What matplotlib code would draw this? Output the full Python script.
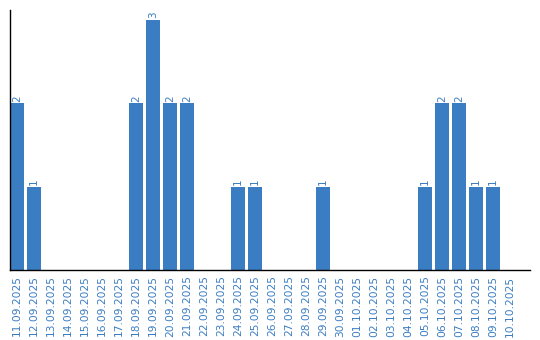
import matplotlib
matplotlib.use("Agg")
from matplotlib import pyplot as plt

# daily counts, 11.09.2025 .. 10.10.2025
dates = ["11.09.2025", "12.09.2025", "13.09.2025", "14.09.2025", "15.09.2025",
         "16.09.2025", "17.09.2025", "18.09.2025", "19.09.2025", "20.09.2025",
         "21.09.2025", "22.09.2025", "23.09.2025", "24.09.2025", "25.09.2025",
         "26.09.2025", "27.09.2025", "28.09.2025", "29.09.2025", "30.09.2025",
         "01.10.2025", "02.10.2025", "03.10.2025", "04.10.2025", "05.10.2025",
         "06.10.2025", "07.10.2025", "08.10.2025", "09.10.2025", "10.10.2025"]
counts = [2, 1, 0, 0, 0, 0, 0, 2, 3, 2,
          2, 0, 0, 1, 1, 0, 0, 0, 1, 0,
          0, 0, 0, 0, 1, 2, 2, 1, 1, 0]

blue = "#3b7dc2"

fig = plt.figure(figsize=(5.4, 3.4), dpi=100)
ax = fig.add_axes([10 / 540, 70 / 340, 520 / 540, 260 / 340])

xs = range(len(dates))
ax.bar(xs, counts, width=14 / 17, color=blue)

for x, c in zip(xs, counts):
    if c > 0:
        ax.text(x, c + 0.02, str(c), rotation=90, ha="center", va="bottom",
                color=blue, fontsize=7.5)

ax.set_xlim(-7 / 17, 30.18)
ax.set_ylim(0, 3.12)
ax.set_xticks(list(xs))
ax.set_xticklabels(dates, rotation=90, color=blue, fontsize=7.7)
ax.tick_params(axis="x", length=0, pad=4)
ax.set_yticks([])
for side in ["top", "right"]:
    ax.spines[side].set_visible(False)
ax.spines["left"].set_linewidth(1)
ax.spines["bottom"].set_linewidth(1)

fig.savefig("out.png", dpi=100)
